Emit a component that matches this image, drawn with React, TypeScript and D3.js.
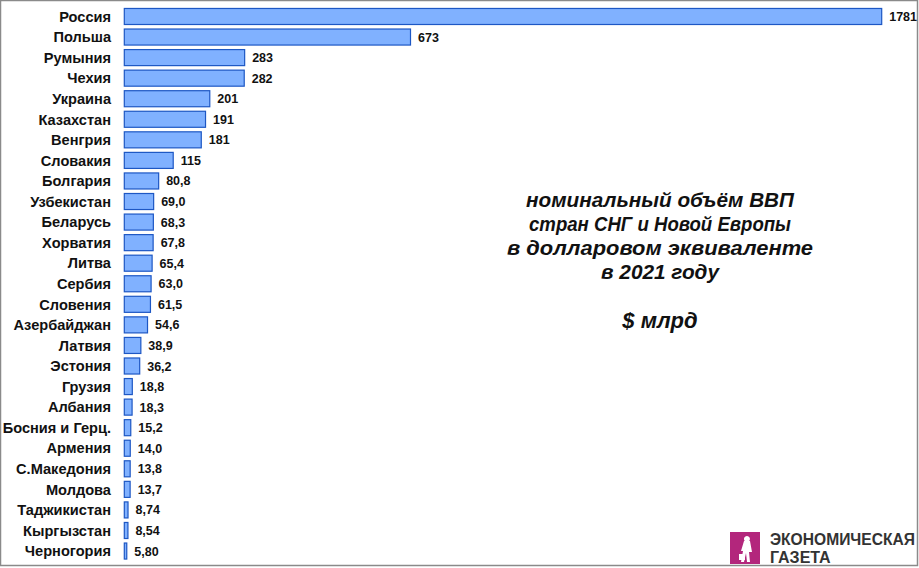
import React from "react";
import * as d3 from "d3";

const countries = [
  "Россия", "Польша", "Румыния", "Чехия", "Украина", "Казахстан", "Венгрия",
  "Словакия", "Болгария", "Узбекистан", "Беларусь", "Хорватия", "Литва", "Сербия",
  "Словения", "Азербайджан", "Латвия", "Эстония", "Грузия", "Албания",
  "Босния и Герц.", "Армения", "С.Македония", "Молдова", "Таджикистан",
  "Кыргызстан", "Черногория",
];
const values = [
  1781, 673, 283, 282, 201, 191, 181, 115, 80.8, 69.0, 68.3, 67.8, 65.4, 63.0,
  61.5, 54.6, 38.9, 36.2, 18.8, 18.3, 15.2, 14.0, 13.8, 13.7, 8.74, 8.54, 5.80,
];
const valueLabels = [
  "1781", "673", "283", "282", "201", "191", "181", "115", "80,8", "69,0", "68,3",
  "67,8", "65,4", "63,0", "61,5", "54,6", "38,9", "36,2", "18,8", "18,3", "15,2",
  "14,0", "13,8", "13,7", "8,74", "8,54", "5,80",
];
const titleLines = [
  "номинальный объём ВВП",
  "стран СНГ и Новой Европы",
  "в долларовом эквиваленте",
  "в 2021 году",
];
const titleWidths = [268, 262, 306, 118];
const unitLabel = "$ млрд";
const logoLines = ["ЭКОНОМИЧЕСКАЯ", "ГАЗЕТА"];

const W = 919;
const H = 568;
const font = "Arial, 'Liberation Sans', sans-serif";

export default function App() {
  const x = d3.scaleLinear().domain([0, 1781]).range([124.3, 881.7]);
  const step = 20.56;
  const y = d3
    .scaleBand<string>()
    .domain(countries)
    .range([6.2, 6.2 + countries.length * step])
    .paddingInner(0.22)
    .paddingOuter(0.11);

  return (
    <svg
      width={W}
      height={H}
      style={{ position: "absolute", left: 0, top: 0, background: "#fff" }}
    >
      <rect x={0} y={0} width={W} height={H} fill="#fff" />
      <rect x={0.5} y={0.5} width={917} height={565} fill="none" stroke="#8a8a8a" strokeWidth={1.5} />
      {countries.map((c, i) => {
        const yy = y(c)!;
        const bh = y.bandwidth();
        const cy = yy + bh / 2;
        const x1 = x(values[i]);
        return (
          <g key={c}>
            <rect
              x={x(0)}
              y={yy}
              width={Math.max(0, x1 - x(0))}
              height={bh}
              fill="#80b1ff"
              stroke="#1d57c4"
              strokeWidth={1.2}
            />
            <text
              x={111}
              y={cy}
              dy="0.36em"
              textAnchor="end"
              fontFamily={font}
              fontWeight="bold"
              fontSize={14.6}
              fill="#111"
            >
              {c}
            </text>
            <text
              x={x1 + 7.5}
              y={cy}
              dy="0.36em"
              fontFamily={font}
              fontWeight="bold"
              fontSize={12.5}
              fill="#111"
            >
              {valueLabels[i]}
            </text>
          </g>
        );
      })}
      {titleLines.map((t, i) => (
        <text
          key={t}
          x={660}
          y={207 + i * 24}
          textAnchor="middle"
          fontFamily={font}
          fontWeight="bold"
          fontStyle="italic"
          fontSize={20.8}
          textLength={titleWidths[i]}
          lengthAdjust="spacingAndGlyphs"
          fill="#111"
        >
          {t}
        </text>
      ))}
      <text
        x={660}
        y={328}
        textAnchor="middle"
        fontFamily={font}
        fontWeight="bold"
        fontStyle="italic"
        fontSize={22}
        fill="#111"
      >
        {unitLabel}
      </text>
      <g>
        <rect x={730} y={532} width={30} height={32} fill="#b3267c" />
        <path
          d="M747 536 a3 3 0 1 1 -0.1 0 Z M744 541 L750 541 L752 552 L749 552 L750 562 L747 562 L746 553 L744 562 L741 562 L743 551 L741 551 Z M739 554 L745 554 L745 560 L739 560 Z"
          fill="#fff"
        />
        {logoLines.map((t, i) => (
          <text
            key={t}
            x={770}
            y={545 + i * 17.7}
            fontFamily={font}
            fontWeight="bold"
            fontSize={16}
            textLength={i === 0 ? 145 : undefined}
            lengthAdjust="spacingAndGlyphs"
            fill="#333"
          >
            {t}
          </text>
        ))}
      </g>
    </svg>
  );
}
